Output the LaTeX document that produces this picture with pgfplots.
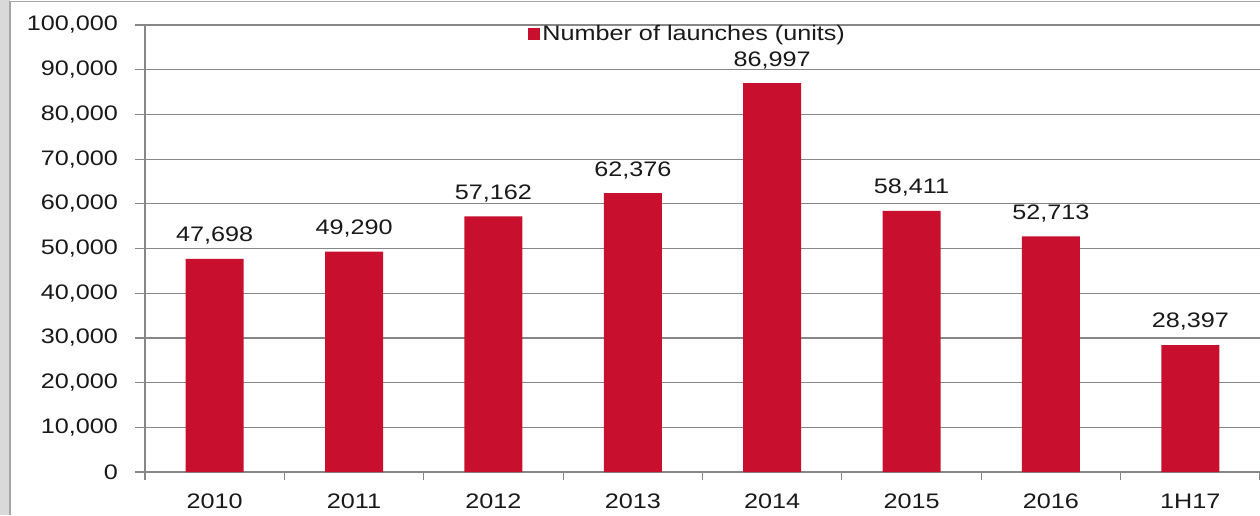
\documentclass[border=0pt]{standalone}
\usepackage{fontspec}
\setmainfont{Liberation Sans}[FakeStretch=1.2]
\usepackage{pgfplots}
\pgfplotsset{compat=1.18}
\definecolor{barred}{RGB}{200,16,46}
\definecolor{gridgray}{RGB}{135,135,135}
\definecolor{txt}{RGB}{25,25,25}
\begin{document}
\begin{tikzpicture}[font=\fontsize{10.5}{12}\selectfont]
\useasboundingbox (0pt,0pt) rectangle (630pt,257.5pt);
\fill[white] (0pt,0pt) rectangle (630pt,257.5pt);
\fill[gray!30] (0pt,0pt) rectangle (5pt,257.5pt);
\draw[gray!70, line width=0.8pt] (5pt,0pt) -- (5pt,256.8pt) -- (630pt,256.8pt);
\begin{axis}[
  at={(72.5pt,21.5pt)}, anchor=south west,
  scale only axis, width=557.5pt, height=223.5pt,
  xmin=-0.5, xmax=7.5, ymin=0, ymax=100000,
  enlargelimits=false,
  ybar, bar width=29pt,
  ytick={0,10000,...,100000},
  xtick={0,...,7},
  xticklabels={2010,2011,2012,2013,2014,2015,2016,1H17},
  minor xtick={-0.5,0.5,...,7.5},
  tick align=outside,
  major tick length=5pt, minor tick length=4pt,
  major x tick style={draw=none},
  minor x tick style={draw=gridgray, line width=0.6pt},
  y tick style={draw=gridgray, line width=0.6pt},
  ymajorgrids, grid style={gridgray, line width=0.6pt},
  axis x line*=bottom, axis y line*=left,
  axis line style={draw=gridgray, line width=0.6pt, -},
  scaled y ticks=false,
  /pgf/number format/.cd, fixed, 1000 sep={,}, assume math mode=true, /pgfplots/.cd,
  tick label style={txt},
  yticklabel style={xshift=-5pt},
  xticklabel style={yshift=-2.5pt},
  nodes near coords,
  every node near coord/.append style={txt, inner sep=0pt, yshift=7pt},
  legend style={at={(0.3435,0.98)}, anchor=west, draw=none, fill=none, inner sep=0pt,
    nodes={inner sep=1pt, text=txt}},
  legend image code/.code={\fill[barred] (0pt,-3pt) rectangle (6pt,3pt);},
]
\addplot[fill=barred, draw=none] coordinates {
  (0,47698) (1,49290) (2,57162) (3,62376) (4,86997) (5,58411) (6,52713) (7,28397)
};
\addlegendentry{Number of launches (units)}
\end{axis}
\end{tikzpicture}
\end{document}
